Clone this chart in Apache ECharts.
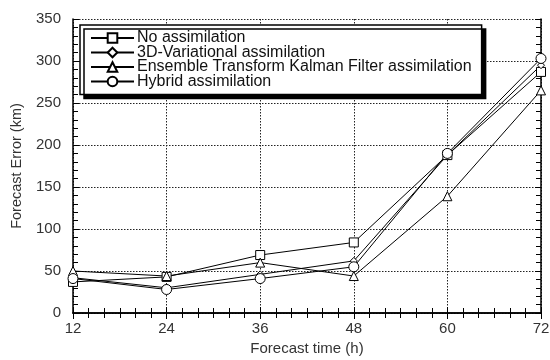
<!DOCTYPE html>
<html>
<head>
<meta charset="utf-8">
<script src="https://cdn.jsdelivr.net/npm/echarts@6/dist/echarts.min.js"></script>
<style>html,body{margin:0;padding:0;background:#fff}#c{width:550px;height:360px}</style>
</head>
<body>
<div id="c"></div>
<script>
const forecastHours = [12, 24, 36, 48, 60, 72];
const noAssim = [37, 43, 69, 84, 188, 287];
const var3d = [42, 30, 46, 62, 188, 295];
const etkf = [50, 44, 60, 44, 139, 265];
const hybrid = [41, 28, 41, 55, 190, 303];
const seriesNames = [
  'No assimilation',
  '3D-Variational assimilation',
  'Ensemble Transform Kalman Filter assimilation',
  'Hybrid assimilation'
];

const chart = echarts.init(document.getElementById('c'));
const font = 'Liberation Sans, Arial, sans-serif';
function pairs(v){ return forecastHours.map((h,i)=>[h, v[i]]); }
const sym = ['rect','diamond','triangle','circle'];
const sizes = [9, 7, 9, 10];
const vals = [noAssim, var3d, etkf, hybrid];

const gridLine = {show:true, lineStyle:{color:'#222', type:[1.5,1.5], width:1}};
chart.setOption({
  animation:false,
  backgroundColor:'#fff',
  grid:{left:73, right:9, top:19, bottom:47, outerBoundsMode:'none', containLabel:false},
  legend:{
    orient:'vertical', left:80, top:25,
    backgroundColor:'#fff', borderColor:'#000', borderWidth:1.5,
    shadowColor:'#000', shadowBlur:0, shadowOffsetX:4, shadowOffsetY:4,
    padding:[5,10,5,10], itemGap:-1.5, itemWidth:43, itemHeight:12,
    textStyle:{fontFamily:font, fontSize:16, lineHeight:13, color:'#111', padding:[0,0,0,-2]},
    data:seriesNames
  },
  xAxis:[{
    type:'value', min:12, max:72, interval:12,
    name:'Forecast time (h)', nameLocation:'middle', nameGap:26,
    nameTextStyle:{fontFamily:font, fontSize:15, color:'#333'},
    axisLine:{lineStyle:{color:'#000', width:1.5}},
    axisTick:{inside:true, length:6, lineStyle:{color:'#000'}},
    minorTick:{show:true, splitNumber:6, length:5, lineStyle:{color:'#000'}},
    axisLabel:{fontFamily:font, fontSize:15, color:'#333', margin:8},
    splitLine:gridLine
  },{
    type:'value', position:'top', min:12, max:72, interval:12,
    axisLine:{show:true, lineStyle:{color:'#000', width:1.5}},
    axisTick:{show:true, inside:true, length:6, lineStyle:{color:'#000'}},
    minorTick:{show:true, splitNumber:6, length:5, lineStyle:{color:'#000'}},
    axisLabel:{show:false}, splitLine:{show:false}
  }],
  yAxis:[{
    type:'value', min:0, max:350, interval:50,
    name:'Forecast Error (km)', nameLocation:'middle', nameGap:49,
    nameTextStyle:{fontFamily:font, fontSize:14.5, color:'#333'},
    axisLine:{show:true, lineStyle:{color:'#000', width:1.5}},
    axisTick:{show:true, inside:true, length:6, lineStyle:{color:'#000'}},
    minorTick:{show:true, splitNumber:5, length:5, lineStyle:{color:'#000'}},
    axisLabel:{fontFamily:font, fontSize:15, color:'#333', margin:12},
    splitLine:gridLine
  },{
    type:'value', position:'right', min:0, max:350, interval:50,
    axisLine:{show:true, lineStyle:{color:'#000', width:1.5}},
    axisTick:{show:true, inside:true, length:6, lineStyle:{color:'#000'}},
    minorTick:{show:true, splitNumber:5, length:5, lineStyle:{color:'#000'}},
    axisLabel:{show:false}, splitLine:{show:false}
  }],
  series: seriesNames.map((n,i)=>({
    name:n, type:'line', data:pairs(vals[i]),
    symbol:sym[i], symbolSize:sizes[i], showAllSymbol:true,
    lineStyle:{color:'#000', width:1},
    itemStyle:{color:'#fff', borderColor:'#000', borderWidth:1},
    z: 3
  }))
});
</script>
</body>
</html>
